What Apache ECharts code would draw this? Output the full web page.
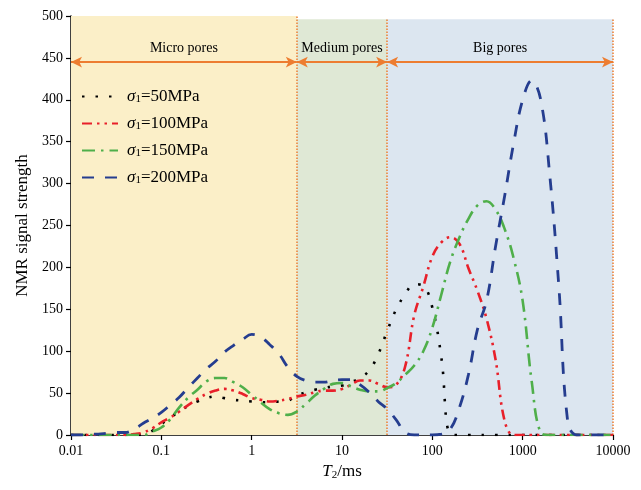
<!DOCTYPE html>
<html>
<head>
<meta charset="utf-8">
<script src="https://cdn.jsdelivr.net/npm/echarts@6/dist/echarts.min.js"></script>
<style>
  html, body { margin: 0; padding: 0; background: #fff; }
  #chart { width: 641px; height: 490px; }
</style>
</head>
<body>
<div id="chart"></div>
<script>
// T2 relaxation times (ms), log spaced
var t2 = [0.01, 0.0126, 0.0158, 0.02, 0.0251, 0.0316, 0.0398, 0.0501, 0.0631, 0.0794,
  0.1, 0.126, 0.158, 0.2, 0.251, 0.316, 0.398, 0.501, 0.631, 0.794,
  1, 1.26, 1.58, 2, 2.51, 3.16, 3.98, 5.01, 6.31, 7.94,
  10, 12.6, 15.8, 20, 25.1, 31.6, 39.8, 50.1, 63.1, 79.4,
  100, 126, 158, 200, 251, 316, 398, 501, 631, 794,
  1000, 1259, 1585, 1995, 2512, 3162, 3981, 5012, 6310, 7943, 10000];

var s50 = [0, 0, 0, 0, 0, 0, 0, 0, 1, 5,
  13, 21, 28, 35, 40, 44, 46, 44, 42, 41,
  40, 39, 39, 40, 41, 47, 51, 54, 56, 58,
  59, 63, 68, 77, 96, 124, 150, 168, 180, 178,
  152, 92, 1, 0, 0, 0, 0, 0, 0, 0,
  0, 0, 0, 0, 0, 0, 0, 0, 0, 0, 0];

var s100 = [0, 0, 0, 0, 0, 0, 0, 1, 3, 8,
  15, 21, 28, 36, 43, 49, 53, 55, 53, 49,
  44, 42, 40, 41, 43, 46, 48, 51, 53, 53,
  55, 60, 65, 65, 61, 57, 60, 82, 143, 177,
  213, 230, 236, 228, 199, 172, 139, 90, 17, 0,
  0, 0, 0, 0, 0, 0, 0, 0, 0, 0, 0];

var s150 = [0, 0, 0, 0, 0, 0, 0, 0, 0, 4,
  9, 19, 33, 45, 54, 64, 68, 68, 63, 57,
  48, 39, 31, 26, 24, 28, 37, 47, 55, 61,
  62, 58, 54, 52, 52, 56, 62, 72, 83, 100,
  128, 168, 207, 236, 258, 274, 279, 269, 246, 211,
  160, 64, 3, 0, 0, 0, 0, 0, 0, 0, 0];

var s200 = [0, 0, 1, 1, 2, 3, 3, 7, 14, 20,
  27, 36, 45, 57, 68, 79, 88, 99, 107, 114,
  120, 117, 108, 97, 81, 70, 65, 63, 63, 65,
  66, 66, 60, 51, 40, 31, 18, 3, 0, 0,
  0, 1, 7, 33, 72, 126, 160, 225, 285, 348,
  400, 423, 400, 310, 178, 15, 0, 0, 0, 0, 0];

var seriesNames = ['50MPa', '100MPa', '150MPa', '200MPa'];
var xTickLabels = ['0.01', '0.1', '1', '10', '100', '1000', '10000'];
var poreNames = ['Micro pores', 'Medium pores', 'Big pores'];
var poreBounds = [0.01, 3.16, 31.6, 10000];

var font = '"Liberation Serif", "Times New Roman", serif';
var orange = '#ED7D31';

function pairs(vals) {
  var out = [];
  for (var i = 0; i < t2.length; i++) out.push([t2[i], vals[i]]);
  return out;
}

var chart = echarts.init(document.getElementById('chart'));

var arrowLines = [];
for (var k = 0; k < 3; k++) {
  arrowLines.push([
    {coord: [poreBounds[k], 445], name: poreNames[k]},
    {coord: [poreBounds[k + 1], 445]}
  ]);
}

var option = {
  animation: false,
  textStyle: {fontFamily: font},
  grid: {left: 71, right: 28, top: 16, bottom: 55},
  legend: {
    data: seriesNames,
    orient: 'vertical',
    left: 76,
    top: 83,
    itemWidth: 36,
    itemHeight: 12,
    itemGap: 10,
    itemStyle: {opacity: 0},
    formatter: function (name) {
      return '{s|σ}{sub|1}{t|=' + name + '}';
    },
    textStyle: {
      rich: {
        s: {fontFamily: font, fontStyle: 'italic', fontSize: 17, color: '#000', padding: [0, 0, 0, 4]},
        sub: {fontFamily: font, fontSize: 11, color: '#000', verticalAlign: 'bottom', padding: [6, 0, 0, 0]},
        t: {fontFamily: font, fontSize: 17, color: '#000'}
      }
    }
  },
  xAxis: {
    type: 'log',
    logBase: 10,
    min: 0.01,
    max: 10000,
    name: '{i|T}{sub|2}{t|/ms}',
    nameLocation: 'middle',
    nameGap: 19,
    nameTextStyle: {
      rich: {
        i: {fontFamily: font, fontStyle: 'italic', fontSize: 17, color: '#000'},
        sub: {fontFamily: font, fontSize: 11, color: '#000', verticalAlign: 'bottom', padding: [8, 0, 0, 0]},
        t: {fontFamily: font, fontSize: 17, color: '#000'}
      }
    },
    axisLine: {lineStyle: {color: '#000', width: 1.5}},
    axisTick: {lineStyle: {color: '#000', width: 1.2}, length: 5},
    minorTick: {show: false},
    splitLine: {show: false},
    axisLabel: {
      color: '#000', fontSize: 14, fontFamily: font, margin: 9,
      formatter: function (v) {
        var idx = Math.round(Math.log10(v)) + 2;
        return xTickLabels[idx] || '';
      }
    }
  },
  yAxis: {
    type: 'value',
    min: 0,
    max: 500,
    interval: 50,
    name: 'NMR signal strength',
    nameLocation: 'middle',
    nameGap: 40,
    nameTextStyle: {fontFamily: font, fontSize: 17, color: '#000'},
    axisLine: {show: true, lineStyle: {color: '#000', width: 1.5}},
    axisTick: {show: true, lineStyle: {color: '#000', width: 1.2}, length: 5},
    splitLine: {show: false},
    axisLabel: {color: '#000', fontSize: 14, fontFamily: font, margin: 8}
  },
  series: [
    {
      name: 'bg',
      type: 'line',
      data: [],
      z: 1,
      silent: true,
      markArea: {
        silent: true,
        data: [
          [{coord: [0.01, 0], itemStyle: {color: '#FBEFC8'}}, {coord: [3.16, 500]}],
          [{coord: [3.16, 0], itemStyle: {color: '#DFE8D5'}}, {coord: [31.6, 496]}],
          [{coord: [31.6, 0], itemStyle: {color: '#DCE6F0'}}, {coord: [10000, 496]}]
        ]
      },
      markLine: {
        silent: true,
        symbol: 'none',
        label: {show: false},
        lineStyle: {color: orange, type: [1.5, 1.5], width: 1.5},
        data: [
          [{coord: [3.16, 0]}, {coord: [3.16, 500]}],
          [{coord: [31.6, 0]}, {coord: [31.6, 496]}],
          [{coord: [10000, 0]}, {coord: [10000, 496]}]
        ]
      }
    },
    {
      name: 'arrows',
      type: 'line',
      data: [],
      z: 2,
      silent: true,
      markLine: {
        silent: true,
        symbol: ['arrow', 'arrow'],
        symbolSize: [8, 11],
        lineStyle: {color: orange, type: 'solid', width: 2},
        label: {
          show: true,
          position: 'middle',
          formatter: '{b}',
          color: '#000',
          fontFamily: font,
          fontSize: 14,
          distance: 7
        },
        data: arrowLines
      }
    },
    {
      name: '50MPa', type: 'line', data: pairs(s50), smooth: 0.4, showSymbol: false, symbol: 'none', z: 4,
      lineStyle: {color: '#000', width: 2.6, type: [2.5, 11]},
      itemStyle: {color: '#000'}
    },
    {
      name: '100MPa', type: 'line', data: pairs(s100), smooth: 0.4, showSymbol: false, symbol: 'none', z: 5,
      lineStyle: {color: '#E8202A', width: 2.6, type: [10, 5, 2.5, 5, 2.5, 5]},
      itemStyle: {color: '#E8202A'}
    },
    {
      name: '150MPa', type: 'line', data: pairs(s150), smooth: 0.4, showSymbol: false, symbol: 'none', z: 5,
      lineStyle: {color: '#4FAF4A', width: 2.6, type: [13, 6, 2.5, 6]},
      itemStyle: {color: '#4FAF4A'}
    },
    {
      name: '200MPa', type: 'line', data: pairs(s200), smooth: 0.4, showSymbol: false, symbol: 'none', z: 6,
      lineStyle: {color: '#253D8F', width: 2.8, type: [12, 11]},
      itemStyle: {color: '#253D8F'}
    }
  ]
};

chart.setOption(option);
</script>
</body>
</html>
